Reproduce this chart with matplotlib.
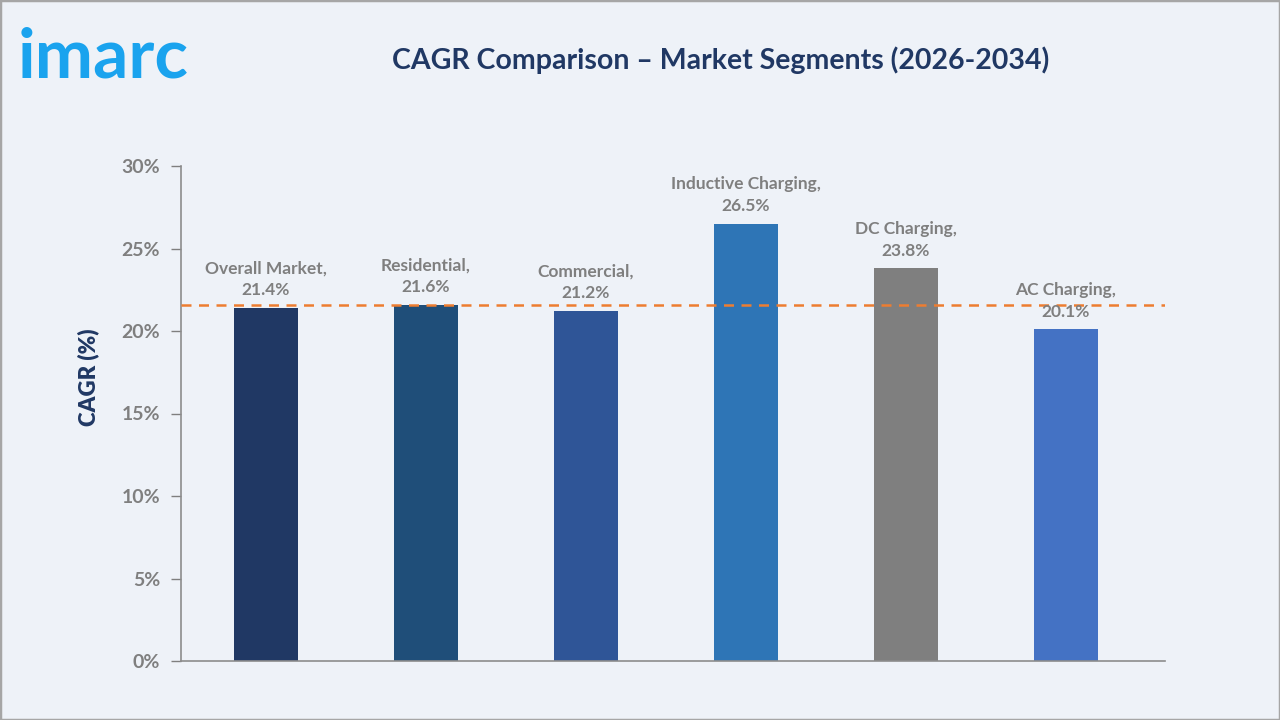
import matplotlib.pyplot as plt
from matplotlib.patches import Rectangle

# --- DATA ---
segments = ['Overall Market', 'Residential', 'Commercial',
            'Inductive Charging', 'DC Charging', 'AC Charging']
cagr = [21.4, 21.6, 21.2, 26.5, 23.8, 20.1]
reference_line = 21.6
yticks = [0, 5, 10, 15, 20, 25, 30]

bar_colors = ['#203864', '#1F4E79', '#2F5597', '#2E75B6', '#7F7F7F', '#4472C4']
bg = '#EEF2F8'
gray = '#7F7F7F'
navy = '#203864'

plt.rcParams['font.family'] = ['Lato', 'DejaVu Sans']

fig = plt.figure(figsize=(12.8, 7.2), dpi=100, facecolor=bg)
ax = fig.add_axes([181 / 1280, 1 - 661 / 720, 984 / 1280, 495 / 720])
ax.set_facecolor(bg)

x = list(range(len(segments)))
ax.bar(x, cagr, width=0.4, color=bar_colors, zorder=2)
ax.axhline(reference_line, color='#ED7D31', lw=1.8, ls=(0, (4, 3)), zorder=3)

# labels above bars
for xi, name, v in zip(x, segments, cagr):
    ax.annotate(f'{name},\n{v}%', (xi, v), xytext=(0, 7), textcoords='offset points',
                ha='center', va='bottom', fontsize=12.5, fontweight='bold',
                color=gray, linespacing=1.45, zorder=4)

ax.set_xlim(-0.53, 5.62)
ax.set_ylim(0, 30)
ax.set_yticks(yticks)
ax.set_yticklabels([f'{t}%' for t in yticks])
ax.set_xticks([])
ax.tick_params(axis='y', length=7, width=1, color=gray, labelcolor=gray,
               labelsize=14, pad=8)
for lbl in ax.get_yticklabels():
    lbl.set_fontweight('bold')
for s in ['top', 'right']:
    ax.spines[s].set_visible(False)
for s in ['left', 'bottom']:
    ax.spines[s].set_color('#8C8C8C')
    ax.spines[s].set_linewidth(1.2)

# y label sits a bit above the axis centre in the reference
fig.text(88 / 1280, 1 - 377 / 720, 'CAGR (%)', rotation=90, ha='center', va='center',
         fontsize=16, fontweight='heavy', color=navy)

# title and logo
fig.text(721 / 1280, 1 - 60 / 720, 'CAGR Comparison \u2013 Market Segments (2026-2034)',
         ha='center', va='center', fontsize=20.5, fontweight='bold', color=navy)
fig.text(18 / 1280, 1 - 58 / 720, 'imarc', ha='left', va='center',
         fontsize=50, fontweight='bold', color='#1AA3EE')

# outer border
fig.patches.append(Rectangle((0, 0), 1, 1, transform=fig.transFigure, fill=False,
                             edgecolor='#A6A6A6', lw=2.5))

fig.savefig('out.png', dpi=100, facecolor=bg)
